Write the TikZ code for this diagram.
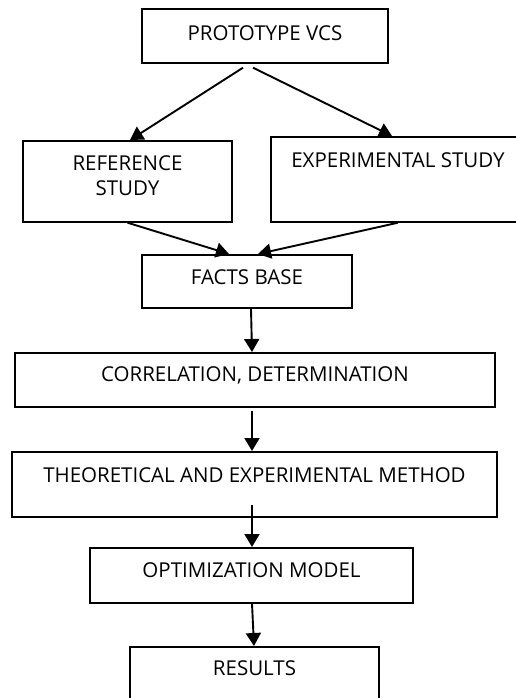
\documentclass[tikz,border=0pt]{standalone}
\usepackage{fontspec}
\setmainfont{Open Sans}
\usetikzlibrary{arrows.meta}

\tikzset{
  stage/.style={draw, line width=1.7pt, anchor=north, inner xsep=0pt, inner ysep=0pt,
                align=center, font=\fontsize{20.5}{25}\selectfont},
  flow/.style={line width=1.9pt, -{Triangle[length=13pt,width=15pt]}}
}

\begin{document}
\begin{tikzpicture}[x=1pt,y=-1pt]
    \useasboundingbox (0,0) rectangle (515,698);
    % boxes, placed by top centre
    \node[stage, minimum width=246pt, text height=32pt, text depth=22pt] (proto)   at (265,8)     {PROTOTYPE VCS};
    \node[stage, minimum width=209pt, text height=55pt, text depth=26pt] (refer)   at (127.5,140) {REFERENCE\\STUDY};
    \node[stage, minimum width=254pt, text height=31pt, text depth=54pt] (expe)    at (398,136)   {EXPERIMENTAL STUDY};
    \node[stage, minimum width=210pt, text height=30pt, text depth=23pt] (facts)   at (247,254)   {FACTS BASE};
    \node[stage, minimum width=480pt, text height=29pt, text depth=25pt] (corr)    at (255,352)   {CORRELATION, DETERMINATION};
    \node[stage, minimum width=485pt, text height=31pt, text depth=34pt] (theo)    at (254.5,451) {THEORETICAL AND EXPERIMENTAL METHOD};
    \node[stage, minimum width=323pt, text height=30pt, text depth=25pt] (optim)   at (251.5,547) {OPTIMIZATION MODEL};
    \node[stage, minimum width=249pt, text height=29pt, text depth=60pt] (results) at (254.5,646) {RESULTS};
    % loose start points below the top box
    \coordinate (split1) at ([xshift=-22pt,yshift=-4pt]proto.south);
    \coordinate (split2) at ([xshift=-12pt,yshift=-4pt]proto.south);
    % connectors
    \draw[flow] (split1) -- ([xshift=2.5pt]refer.north);
    \draw[flow] (split2) -- ([xshift=-6pt]expe.north);
    \draw[flow] (refer.south) -- ([xshift=-18pt]facts.north);
    \draw[flow] (expe.south) -- ([xshift=11pt]facts.north);
    \draw[flow] ([xshift=4pt]facts.south) -- ([xshift=-3pt]corr.north);
    \draw[flow] ([xshift=-3pt,yshift=-3pt]corr.south) -- ([xshift=-2.5pt]theo.north);
    \draw[flow] ([xshift=-2.5pt,yshift=13pt]theo.south) -- ([xshift=0.5pt]optim.north);
    \draw[flow] ([xshift=0.5pt]optim.south) -- ([xshift=-0.5pt]results.north);
\end{tikzpicture}
\end{document}
